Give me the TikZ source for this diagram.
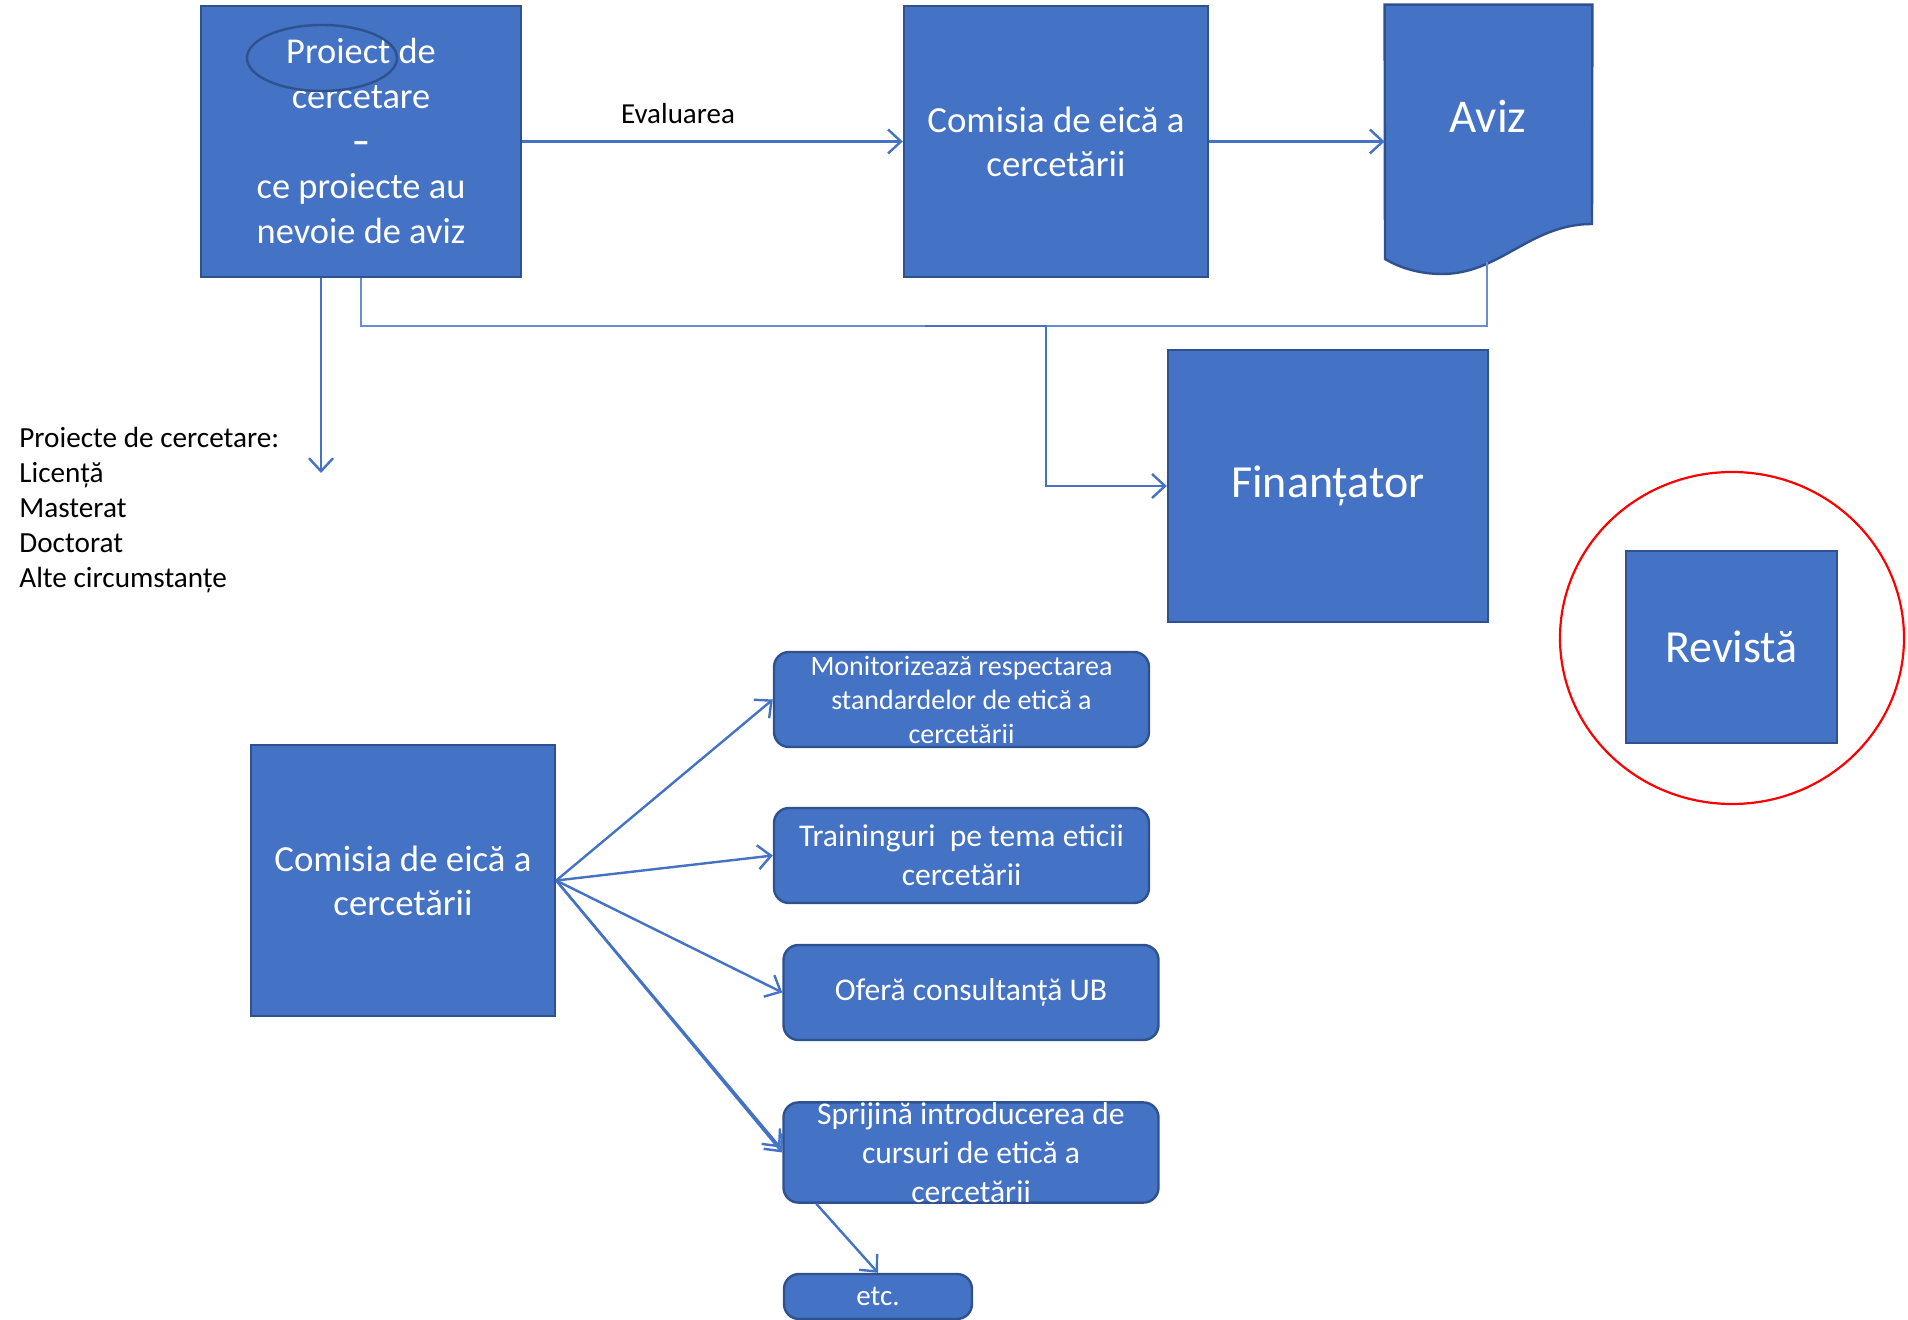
\documentclass[tikz,border=0pt]{standalone}
\usepackage{fontspec}
\setmainfont{Carlito}
\usetikzlibrary{arrows.meta,shapes.geometric}

\definecolor{boxblue}{HTML}{4472C4}
\definecolor{boxedge}{HTML}{2F528F}

\begin{document}
\begin{tikzpicture}[x=0.5pt,y=-0.5pt,
    blok/.style={draw=boxedge,fill=boxblue,line width=1.2pt,text=white,align=center,inner sep=0pt},
    bigblok/.style={blok,minimum width=152pt,minimum height=135.5pt,font=\fontsize{18.4}{22}\selectfont},
    pill/.style={blok,rounded corners=7.5pt,minimum width=187.5pt,minimum height=47.5pt,font=\fontsize{15.8}{19.5}\selectfont},
    arr/.style={boxblue,line width=1.2pt,-{Straight Barb[length=6.5pt,width=12pt]}},
    link/.style={boxblue!80,line width=0.7pt}]
    \useasboundingbox (0,0) rectangle (1908,1320);

    % top row
    \node[bigblok,minimum width=160pt,font=\fontsize{18.2}{22.5}\selectfont] (proj) at (361,141.5)
        {Proiect de\\cercetare\\\textbf{–}\\ce proiecte au\\nevoie de aviz};
    \node[draw=boxedge,line width=1.2pt,ellipse,minimum width=75pt,minimum height=33pt] (mark) at (322,58) {};
    \node[bigblok] (com1) at (1056,141.5) {Comisia de eică a\\cercetării};

    % aviz (document shape)
    \node[minimum width=103.5pt,minimum height=134.5pt] (aviz) at (1488.5,139.5) {};
    \filldraw[draw=boxedge,fill=boxblue,line width=1.2pt] (aviz.north west) -- (aviz.north east) -- (1592,224)
        .. controls (1530,224) and (1500,274) .. (1442,274)
        .. controls (1420,274) and (1400,268) .. (1385,259) -- cycle;
    \node[text=white,font=\fontsize{23.5}{27}\selectfont] (avizlbl) at (1488,116) {Aviz};
    \coordinate (avizfoot) at (1487,262);

    \node[blok,minimum width=160pt,minimum height=136pt,font=\fontsize{23}{27}\selectfont] (fin) at (1328,486) {Finanțator};
    \node[draw=red,line width=1.1pt,ellipse,minimum width=172pt,minimum height=166pt] (ring) at (1732,638) {};
    \node[blok,minimum width=105.5pt,minimum height=96pt,font=\fontsize{23}{27}\selectfont] (rev) at (1731.5,647) {Revistă};

    \node[font=\fontsize{14.5}{14.5}\selectfont] (evallbl) at (678,114) {Evaluarea};
    \node[anchor=west,align=left,inner sep=0pt,font=\fontsize{14.6}{17.6}\selectfont] (tipuri) at (19,510)
        {Proiecte de cercetare:\\Licență\\Masterat\\Doctorat\\Alte circumstanțe};

    \draw[arr] (proj) -- (com1);
    \draw[arr] (com1.east) -- (com1.east -| aviz.west);
    \coordinate (downend) at (321,473);
    \draw[arr] (downend |- proj.south) -- (downend);
    \coordinate (bus) at (0,326);
    \draw[link] (proj.south) |- (bus -| avizfoot) -- (avizfoot);
    \coordinate (tap) at (925,326);
    \coordinate (bend) at (1046,326);
    \draw[arr] (tap) -- (bend) |- (fin.west);

    % bottom part
    \node[bigblok] (com2) at (403,880.5) {Comisia de eică a\\cercetării};
    \node[pill,font=\fontsize{14}{17}\selectfont] (mon) at (961.5,699.5)
        {Monitorizează respectarea\\standardelor de etică a\\cercetării};
    \node[pill] (train) at (961.5,855.5) {Traininguri\ \ pe tema eticii\\cercetării};
    \node[pill] (ofera) at (971,992.5) {Oferă consultanță UB};
    \node[pill] (sprij) at (971,1152.5) {Sprijină introducerea de\\cursuri de etică a\\cercetării};
    \node[pill,minimum width=94pt,minimum height=22.5pt,font=\fontsize{14.5}{16}\selectfont] (etc) at (878,1296.5) {etc.};

    \foreach \t in {mon,train,ofera,sprij}
        \draw[arr] (com2.east) -- (\t.west);
    \draw[arr] (com2.east) -- ([xshift=-1pt,yshift=2.5pt]sprij.west);
    \draw[arr] ([xshift=17pt]sprij.south west) -- (etc.north);
\end{tikzpicture}
\end{document}
